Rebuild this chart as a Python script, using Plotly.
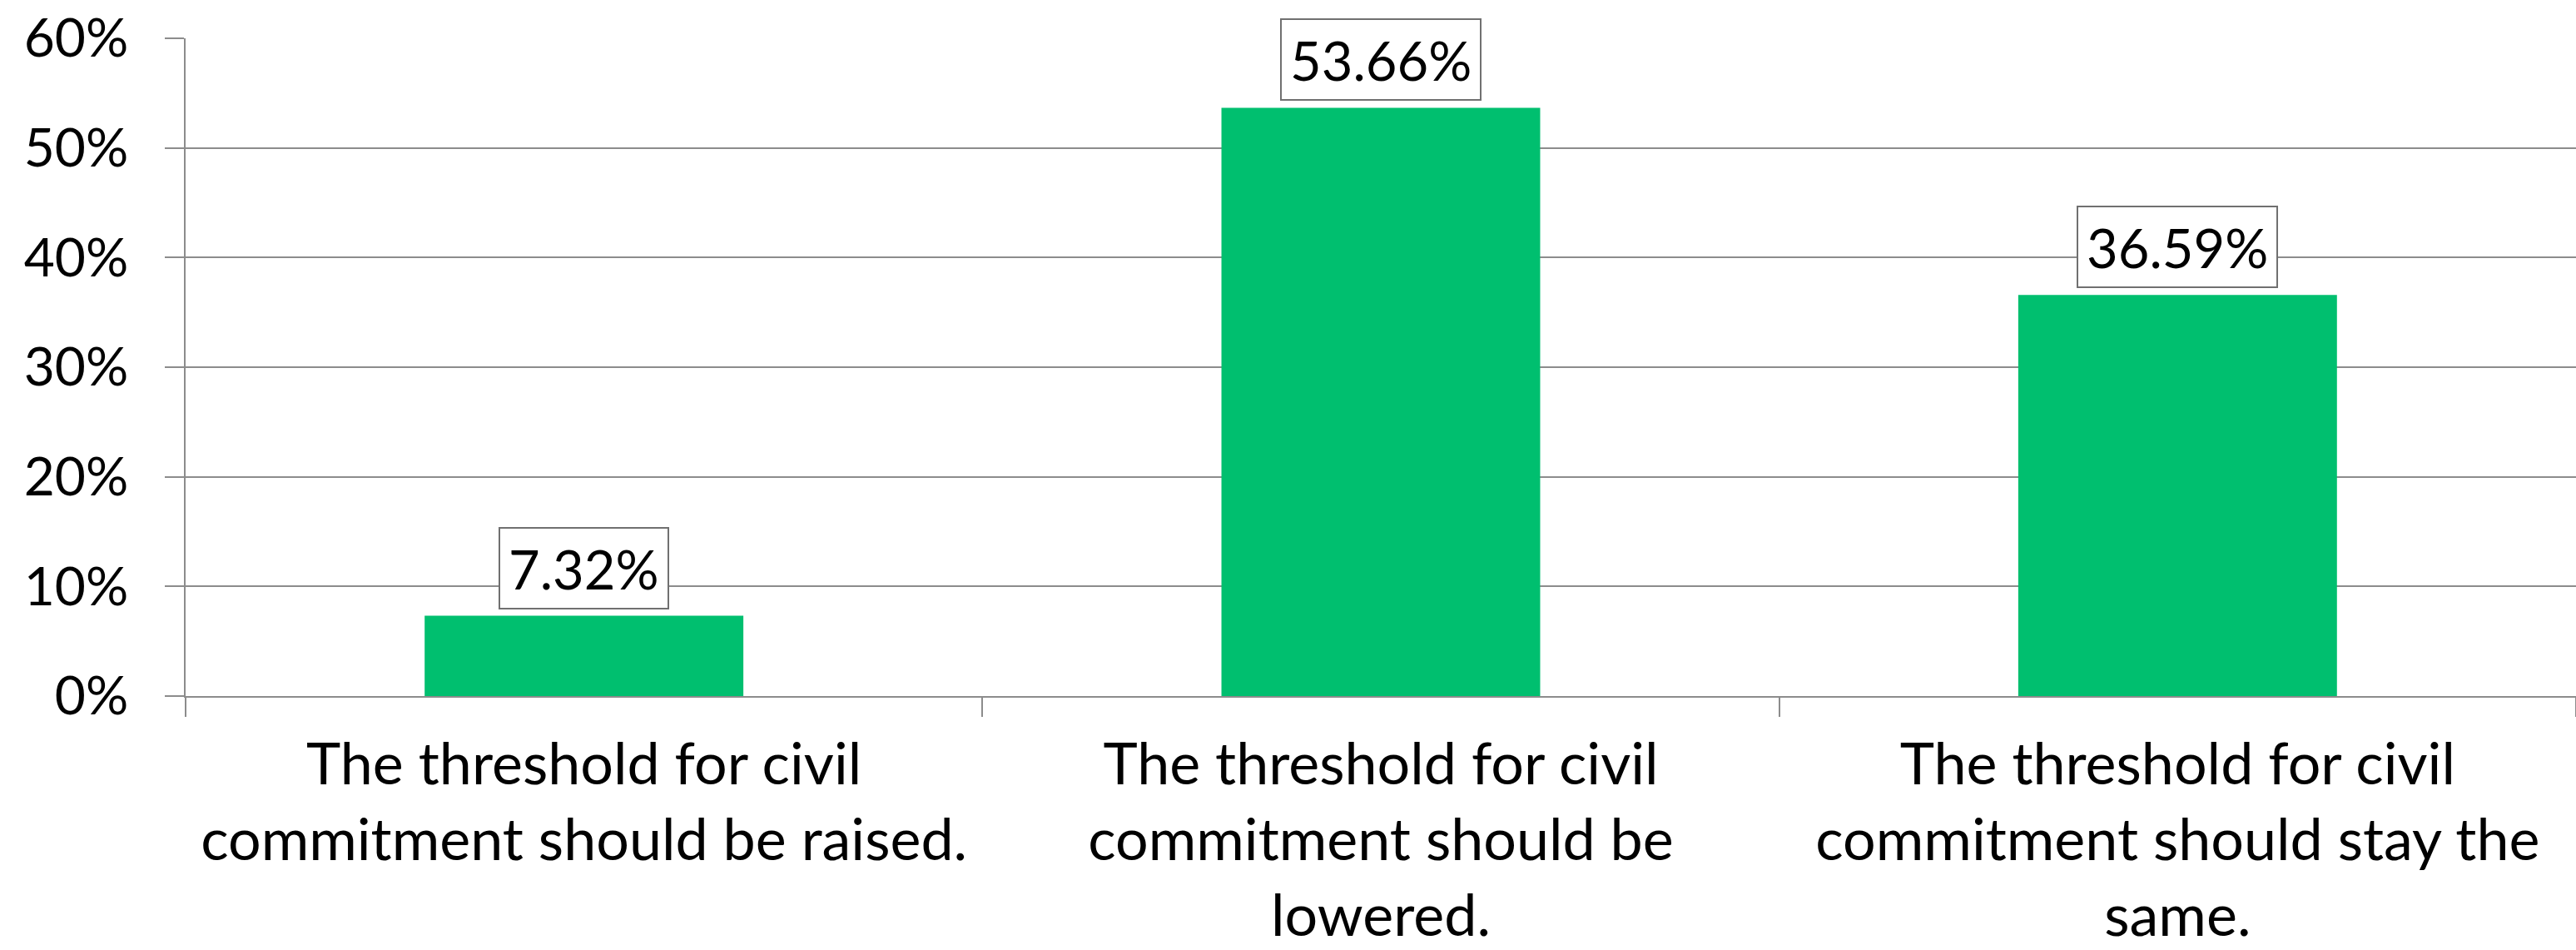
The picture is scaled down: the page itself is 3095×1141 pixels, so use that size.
import plotly.graph_objects as go

categories = [
    "The threshold for civil<br>commitment should be raised.",
    "The threshold for civil<br>commitment should be<br>lowered.",
    "The threshold for civil<br>commitment should stay the<br>same.",
]
values = [0.0732, 0.5366, 0.3659]
y_ticks = [0, 0.1, 0.2, 0.3, 0.4, 0.5, 0.6]
y_tick_labels = ["0%", "10%", "20%", "30%", "40%", "50%", "60%"]

FONT = "Lato, 'Open Sans', sans-serif"
GRID = "#8c8c8c"

fig = go.Figure()
fig.add_trace(go.Bar(
    x=categories, y=values,
    marker=dict(color="#00BF6F", line=dict(width=0)),
    hoverinfo="skip",
))

for c, v in zip(categories, values):
    fig.add_annotation(
        x=c, y=v, xref="x", yref="y",
        text=f"{v*100:.2f}%", showarrow=False,
        yanchor="bottom", yshift=8,
        font=dict(family=FONT, size=65, color="black"),
        height=75,
        bordercolor="#707070", borderwidth=2, borderpad=10, bgcolor="white",
    )

fig.update_layout(
    width=3095, height=1141,
    margin=dict(l=223, r=0, t=46, b=305),
    paper_bgcolor="white", plot_bgcolor="white",
    bargap=0.6, showlegend=False,
    font=dict(family=FONT, size=68, color="black"),
)
fig.update_xaxes(
    type="category",
    showline=True, linecolor=GRID, linewidth=2,
    ticks="outside", tickson="boundaries", ticklen=23, tickwidth=2, tickcolor=GRID,
    tickfont=dict(family=FONT, size=70, color="black"),
    ticklabelstandoff=20,
    showgrid=False,
)
fig.update_yaxes(
    range=[0, 0.6], tickvals=y_ticks, ticktext=y_tick_labels,
    showline=True, linecolor=GRID, linewidth=2,
    showgrid=True, gridcolor=GRID, gridwidth=2,
    ticks="outside", ticklen=23, tickwidth=2, tickcolor=GRID,
    tickfont=dict(family=FONT, size=64, color="black"),
    ticklabelstandoff=31,
    zeroline=False,
)

fig.write_html("out.html")
